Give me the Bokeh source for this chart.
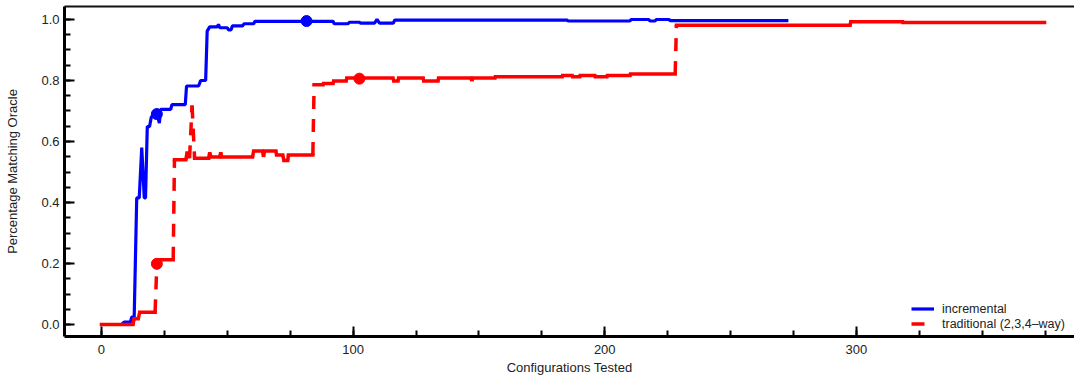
import numpy as np
from bokeh.plotting import figure
from bokeh.models import (Range1d, LinearAxis, FixedTicker, SingleIntervalTicker,
                          PrintfTickFormatter, Legend, LegendItem, ColumnDataSource)
from bokeh.embed import file_html
from bokeh.resources import INLINE

# ---- data (vertices of the two curves) ----
inc_x = [0, 8, 9, 11.5, 12, 13, 14, 15, 16, 17, 17.5, 18.2, 19.1, 19.8, 21, 22, 23, 23.5,
         27.5, 28, 33.3, 33.8, 38.6, 39.4, 41.4, 42, 43, 46, 46.5, 47, 50, 50.5, 51.5, 52,
         56, 56.7, 60.5, 61, 92, 92.5, 98, 98.5, 102.4, 103, 108.5, 109.5, 110.5, 116,
         116.5, 185, 185.5, 210, 210.5, 217.5, 218, 220, 220.5, 225.5, 226, 273]
inc_y = [0.0, 0.0, 0.008, 0.008, 0.024, 0.025, 0.415, 0.415, 0.58, 0.415, 0.415, 0.649,
         0.649, 0.68, 0.69, 0.695, 0.66, 0.705, 0.705, 0.721, 0.721, 0.782, 0.782, 0.80,
         0.80, 0.962, 0.976, 0.976, 0.984, 0.973, 0.973, 0.966, 0.966, 0.979, 0.979, 0.986,
         0.986, 0.994, 0.994, 0.986, 0.986, 0.991, 0.991, 0.988, 0.988, 1.0, 0.988, 0.988,
         0.998, 0.998, 0.995, 0.995, 1.0, 1.0, 0.995, 0.995, 1.0, 1.0, 0.996, 0.996]

trad_x = [0, 12.5, 13, 14.6, 15.2, 21.3, 22, 23, 28.5, 29, 33.5, 34, 34.6, 35, 36, 37,
          42.6, 43, 43.5, 47, 47.4, 47.8, 60, 60.5, 64, 64.4, 64.8, 69.3, 69.6, 72, 72.5,
          74, 74.3, 84, 84.5, 88, 88.3, 92, 92.3, 97.2, 97.5, 115.8, 116.2, 117.8, 118.1,
          127.8, 128.1, 133.7, 134, 146.8, 147.2, 147.6, 156.3, 156.6, 183, 183.3, 187,
          187.3, 190, 190.3, 196, 196.3, 200.8, 201.1, 210, 210.3, 228, 228.5, 297.5,
          297.8, 318.3, 318.6, 374.8]
trad_y = [0.0, 0.0, 0.019, 0.019, 0.04, 0.04, 0.199, 0.212, 0.212, 0.54, 0.54, 0.562,
          0.562, 0.545, 0.718, 0.545, 0.545, 0.565, 0.549, 0.549, 0.565, 0.549, 0.549,
          0.569, 0.569, 0.549, 0.569, 0.569, 0.556, 0.556, 0.538, 0.538, 0.556, 0.556,
          0.786, 0.786, 0.79, 0.79, 0.798, 0.798, 0.808, 0.808, 0.798, 0.798, 0.808,
          0.808, 0.798, 0.798, 0.808, 0.808, 0.798, 0.808, 0.808, 0.812, 0.812, 0.816,
          0.816, 0.812, 0.812, 0.816, 0.816, 0.812, 0.812, 0.816, 0.816, 0.821, 0.821,
          0.981, 0.981, 0.993, 0.993, 0.990, 0.990]

inc_mark_x = [22, 81.5]
inc_mark_y = [0.69, 0.995]
trad_mark_x = [22, 102.5]
trad_mark_y = [0.199, 0.806]

series_labels = ["incremental", "traditional (2,3,4\u2013way)"]
x_label = "Configurations Tested"
y_label = "Percentage Matching Oracle"

BLUE = "#0000ff"
RED = "#ff0000"
FONT = "Liberation Sans"

p = figure(width=1074, height=379, output_backend="svg", toolbar_location=None,
           x_range=Range1d(-14.7, 386.7), y_range=Range1d(-0.0393, 1.0426),
           min_border_left=64, min_border_right=0, min_border_top=6, min_border_bottom=43)
p.xgrid.visible = False
p.ygrid.visible = False
p.outline_line_color = None
p.background_fill_color = "white"
p.border_fill_color = "white"

xa = p.below[0]
ya = p.left[0]

# top frame line
top = LinearAxis(ticker=FixedTicker(ticks=[]), major_label_text_font_size="0px",
                 major_tick_in=0, major_tick_out=0, minor_tick_in=0, minor_tick_out=0,
                 major_label_standoff=0, axis_line_width=2, axis_line_color="#111111")
p.add_layout(top, "above")

xa.ticker = SingleIntervalTicker(interval=100, num_minor_ticks=4)
ya.ticker = SingleIntervalTicker(interval=0.2, num_minor_ticks=4)
ya.formatter = PrintfTickFormatter(format="%.1f")
for ax in (xa, ya):
    ax.axis_line_color = "black"
    ax.axis_line_width = 3
    ax.major_tick_in = 10
    ax.major_tick_out = 0
    ax.minor_tick_in = 6
    ax.minor_tick_out = 0
    ax.major_tick_line_width = 2
    ax.minor_tick_line_width = 2
    ax.major_tick_line_color = "black"
    ax.minor_tick_line_color = "black"
    ax.major_label_text_font = FONT
    ax.major_label_text_font_size = "13px"
    ax.major_label_text_color = "#222222"
    ax.axis_label_text_font = FONT
    ax.axis_label_text_font_size = "13px"
    ax.axis_label_text_font_style = "normal"
    ax.axis_label_text_color = "#222222"
xa.axis_label = x_label
ya.axis_label = y_label
xa.major_label_standoff = 8
xa.axis_label_standoff = 3
ya.major_label_standoff = 5
ya.axis_label_standoff = 18

# blue incremental line (solid)
blue = p.line(inc_x, inc_y, line_color=BLUE, line_width=3.2)

# red traditional line: flat runs solid, jumps dashed (dash restarts per segment)
tx = np.array(trad_x, dtype=float)
ty = np.array(trad_y, dtype=float)
x0, x1, y0, y1 = tx[:-1], tx[1:], ty[:-1], ty[1:]
flat = y0 == y1
src_flat = ColumnDataSource(dict(x0=x0[flat], x1=x1[flat], y0=y0[flat], y1=y1[flat]))
src_jump = ColumnDataSource(dict(x0=x0[~flat], x1=x1[~flat], y0=y0[~flat], y1=y1[~flat]))
p.segment("x0", "y0", "x1", "y1", source=src_flat, line_color=RED, line_width=3.5,
          line_cap="square")
red = p.segment("x0", "y0", "x1", "y1", source=src_jump, line_color=RED, line_width=3.5,
                line_dash="13 10")

p.scatter(inc_mark_x, inc_mark_y, size=11, color=BLUE)
p.scatter(trad_mark_x, trad_mark_y, size=11, color=RED)

legend = Legend(items=[LegendItem(label=series_labels[0], renderers=[blue]),
                       LegendItem(label=series_labels[1], renderers=[red])],
                location=(847, 5), padding=0, margin=0, spacing=0,
                glyph_width=23, glyph_height=15, label_height=15, label_standoff=8,
                label_text_font=FONT, label_text_font_size="12.5px",
                label_text_color="#222222",
                border_line_color=None, background_fill_alpha=0)
p.add_layout(legend)

open("out.html", "w").write(file_html(p, INLINE))
